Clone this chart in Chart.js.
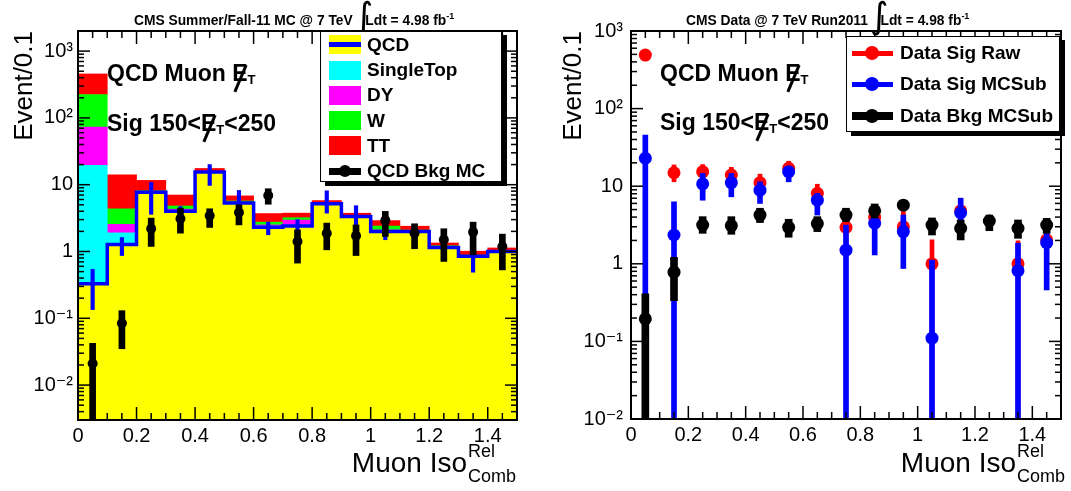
<!DOCTYPE html>
<html lang="fr">
<head>
<meta charset="utf-8">
<script src="https://cdn.jsdelivr.net/npm/chart.js@4.4.1/dist/chart.umd.min.js"></script>
<style>
  html, body { margin: 0; padding: 0; background: #fff; }
  body { width: 1071px; height: 491px; position: relative; overflow: hidden; font-family: "Liberation Sans", Arial, Helvetica, sans-serif; color: #000; }
  canvas { position: absolute; top: 0; }
  .titre { position: absolute; font-weight: bold; font-size: 13.8px; line-height: 14px; white-space: nowrap; z-index: 2; }
  .titre .int { font-family: "DejaVu Sans", sans-serif; font-weight: normal; font-size: 36px; line-height: 0; position: relative; top: 3px; margin-left: -2px; margin-right: -8px; }
  .titre sup { font-size: 9px; line-height: 0; vertical-align: 6px; }
  .annot { position: absolute; font-weight: bold; font-size: 23px; line-height: 23px; white-space: nowrap; z-index: 2; }
  .met { position: relative; display: inline-block; }
  .met i { position: absolute; left: calc(55% - 1.4px); top: 2px; width: 2.8px; height: 29px; background: #000; transform: rotate(23deg); }
  .t { font-size: 13px; position: relative; top: 3px; }
  .titre-x { position: absolute; font-size: 28px; line-height: 28px; white-space: nowrap; z-index: 2; }
  .ss { display: inline-block; position: relative; font-size: 18px; line-height: 18px; top: 10px; margin-left: 1px; }
  .ss .rel { position: absolute; left: 0; top: -25px; }
  .legende { position: absolute; box-sizing: border-box; background: #fff; border: 1.5px solid #000; box-shadow: 5px 4px 0 #000; z-index: 3; }
  .ligne { position: absolute; left: 0; right: 0; height: 20px; line-height: 20px; font-weight: bold; font-size: 19px; white-space: nowrap; }
  .symb { position: absolute; top: 0.5px; width: 32px; height: 19px; }
  .trait { position: absolute; }
  .rond { position: absolute; border-radius: 50%; }
</style>
</head>
<body>
<canvas id="graphe_mc" width="535" height="491" style="left:0"></canvas>
<canvas id="graphe_data" width="536" height="491" style="left:535px"></canvas>

<div class="titre" style="left:134px;top:13px">CMS Summer/Fall-11 MC @ 7 TeV <span class="int">∫</span>Ldt = 4.98 fb<sup>-1</sup></div>
<div class="titre" style="left:686px;top:13px">CMS Data @ 7 TeV Run2011 <span class="int">∫</span>Ldt = 4.98 fb<sup>-1</sup></div>

<div class="annot" style="left:107px;top:62px">QCD Muon <span class="met">E<i></i></span><span class="t">T</span></div>
<div class="annot" style="left:107px;top:112px">Sig 150&lt;<span class="met">E<i></i></span><span class="t">T</span>&lt;250</div>
<div class="annot" style="left:660px;top:62px">QCD Muon <span class="met">E<i></i></span><span class="t">T</span></div>
<div class="annot" style="left:660px;top:111px">Sig 150&lt;<span class="met">E<i></i></span><span class="t">T</span>&lt;250</div>

<div class="titre-x" style="right:555px;top:449px">Muon Iso<span class="ss"><span class="rel">Rel</span>Comb</span></div>
<div class="titre-x" style="right:6px;top:449px">Muon Iso<span class="ss"><span class="rel">Rel</span>Comb</span></div>

<div class="legende" style="left:320px;top:31px;width:182px;height:151px">
  <div class="ligne" style="top:2.5px;padding-left:46px"><span class="symb" style="left:8px;background:#ffff00"><span class="trait" style="left:0;right:0;top:7px;height:5px;background:#0000ff"></span></span>QCD</div>
  <div class="ligne" style="top:28px;padding-left:46px"><span class="symb" style="left:8px;background:#00ffff"></span>SingleTop</div>
  <div class="ligne" style="top:53px;padding-left:46px"><span class="symb" style="left:8px;background:#ff00ff"></span>DY</div>
  <div class="ligne" style="top:78.5px;padding-left:46px"><span class="symb" style="left:8px;background:#00ff00"></span>W</div>
  <div class="ligne" style="top:103.5px;padding-left:46px"><span class="symb" style="left:8px;background:#ff0000"></span>TT</div>
  <div class="ligne" style="top:129px;padding-left:46px"><span class="symb" style="left:8px"><span class="trait" style="left:0;right:0;top:6px;height:7px;background:#000"></span><span class="rond" style="left:10px;top:3.5px;width:12px;height:12px;background:#000"></span></span>QCD Bkg MC</div>
</div>

<div class="legende" style="left:846px;top:36px;width:214px;height:96px">
  <div class="ligne" style="top:6px;padding-left:53px"><span class="trait" style="left:5px;width:41px;top:7.5px;height:5px;background:#ff0000"></span><span class="rond" style="left:18px;top:3px;width:14px;height:14px;background:#ff0000"></span>Data Sig Raw</div>
  <div class="ligne" style="top:37px;padding-left:53px"><span class="trait" style="left:5px;width:41px;top:7.5px;height:5px;background:#0000ff"></span><span class="rond" style="left:18px;top:3px;width:14px;height:14px;background:#0000ff"></span>Data Sig MCSub</div>
  <div class="ligne" style="top:69px;padding-left:53px"><span class="trait" style="left:5px;width:41px;top:6px;height:8px;background:#000"></span><span class="rond" style="left:18px;top:3px;width:14px;height:14px;background:#000"></span>Data Bkg MCSub</div>
</div>

<script>
// --- Binning et axes ---
const centresBins = [0.05, 0.15, 0.25, 0.35, 0.45, 0.55, 0.65, 0.75, 0.85, 0.95, 1.05, 1.15, 1.25, 1.35, 1.45];
const largeurBin = 0.1;
const ticksX = [0, 0.2, 0.4, 0.6, 0.8, 1, 1.2, 1.4];
const etiquettesX = ['0', '0.2', '0.4', '0.6', '0.8', '1', '1.2', '1.4'];
const ticksY = [0.01, 0.1, 1, 10, 100, 1000];
const etiquettesY = ['10⁻²', '10⁻¹', '1', '10', '10²', '10³'];

// --- Panneau gauche : MC empilé ---
const qcd       = [0.33, 1.27, 7.7, 4.0, 15.5, 5.3, 2.3, 2.4, 5.2, 3.35, 2.0, 2.0, 1.15, 0.85, 1.0];
const singleTop = [19.2, 0.63, 0.05, 0.1, 0.05, 0.05, 0.1, 0.1, 0.02, 0.02, 0.05, 0.02, 0.02, 0.01, 0.01];
const dy        = [53.5, 0.65, 0.05, 0.2, 0.05, 0.05, 0.1, 0.45, 0.02, 0.02, 0.05, 0.02, 0.02, 0.01, 0.01];
const w         = [151, 1.8, 0.3, 0.5, 0.1, 0.3, 0.25, 0.25, 0.05, 0.05, 0.3, 0.05, 0.03, 0.01, 0.01];
const tt        = [231, 9.65, 3.5, 2.2, 1.8, 1.1, 0.95, 0.55, 0.5, 0.3, 0.5, 0.3, 0.12, 0.13, 0.1];
const qcdErrBas  = [0.135, 0.87, 3.6, 3.6, 9.75, 3.75, 1.78, 1.8, 3.75, 2.5, 1.5, 1.6, 0.9, 0.49, 0.75];
const qcdErrHaut = [0.54, 1.62, 10.8, 4.7, 20, 8.2, 2.75, 3.0, 8.1, 4.85, 2.66, 2.5, 1.45, 1.0, 1.3];
const bkgMc      = [0.021, 0.084, 2.19, 3.09, 3.43, 3.84, 6.9, 1.41, 1.88, 1.72, 2.92, 1.88, 1.5, 1.95, 1.19];
const bkgMcBas   = [0.0005, 0.035, 1.19, 1.88, 2.29, 2.5, 5.1, 0.67, 1.06, 0.87, 1.68, 1.1, 0.71, 0.89, 0.53];
const bkgMcHaut  = [0.042, 0.13, 3.16, 4.45, 4.36, 5.0, 8.7, 2.1, 2.66, 2.5, 3.98, 2.6, 2.19, 2.75, 1.82];

// --- Panneau droit : données ---
const sigRaw      = [490, 14.9, 15.4, 13.9, 11.1, 17.0, 8.1, 2.95, 3.97, 3.0, 1.0, 4.83, null, 1.0, 2.03];
const sigRawBas   = [468, 11.4, 12, 10.5, 8, 13, 5.5, 1.3, 2.0, 1.3, 0.001, 2.6, null, 0.001, 0.6];
const sigRawHaut  = [512, 18.8, 19, 17.5, 14.3, 21, 10.6, 4.6, 5.7, 4.7, 2.03, 7.0, null, 1.98, 3.4];
const sigSub      = [22.9, 2.35, 10.7, 11.1, 8.9, 15.4, 6.6, 1.5, 3.33, 2.6, 0.11, 4.55, null, 0.815, 1.87];
const sigSubBas   = [0.001, 0.001, 6.6, 7.3, 6.0, 11.4, 4.25, 0.001, 1.3, 0.87, 0.001, 3.0, null, 0.001, 0.46];
const sigSubHaut  = [45.7, 6.3, 14.6, 14.6, 11.4, 17.8, 8.1, 3.16, 4.7, 4.25, 1.12, 7.0, null, 1.84, 2.73];
const bkgData     = [0.195, 0.78, 3.16, 3.1, 4.25, 2.95, 3.3, 4.25, 4.83, 5.7, 3.16, 2.87, 3.56, 2.87, 3.16];
const bkgDataBas  = [0.001, 0.335, 2.47, 2.4, 3.4, 2.2, 2.6, 3.5, 3.9, 5.0, 2.35, 2.03, 2.67, 2.13, 2.47];
const bkgDataHaut = [0.41, 1.21, 4.05, 4.05, 5.2, 3.75, 4.05, 5.2, 5.9, 6.5, 3.9, 3.67, 4.25, 3.67, 3.85];

const FONTE = '"Liberation Sans", "DejaVu Sans", Arial, sans-serif';

// Cadre noir + graduations vers l'intérieur, façon ROOT
const cadreRoot = {
  id: 'cadreRoot',
  afterDraw(chart) {
    const { ctx, chartArea: a, scales: { x, y } } = chart;
    const trait = (x1, y1, x2, y2) => { ctx.beginPath(); ctx.moveTo(x1, y1); ctx.lineTo(x2, y2); ctx.stroke(); };
    ctx.save();
    ctx.strokeStyle = '#000';
    ctx.lineWidth = 1.5;
    for (let e = Math.floor(Math.log10(y.min)); e <= Math.ceil(Math.log10(y.max)); e++) {
      for (let k = 1; k <= 9; k++) {
        const v = k * Math.pow(10, e);
        if (v < y.min || v > y.max) continue;
        const py = y.getPixelForValue(v);
        const l = k === 1 ? 12 : 6;
        trait(a.left, py, a.left + l, py);
        trait(a.right, py, a.right - l, py);
      }
    }
    for (let i = 0; i * 0.05 <= x.max + 1e-9; i++) {
      const px = x.getPixelForValue(i * 0.05);
      const l = i % 4 === 0 ? 13 : 7;
      trait(px, a.bottom, px, a.bottom - l);
      trait(px, a.top, px, a.top + l);
    }
    ctx.lineWidth = 2;
    ctx.strokeRect(a.left, a.top, a.right - a.left, a.bottom - a.top);
    ctx.restore();
  }
};

function barresErreur(bas, haut, couleur, epaisseur, ordre) {
  return {
    type: 'bar',
    data: centresBins.map((x, i) => ({ x, y: [bas[i], haut[i]] })).filter(d => d.y[0] != null),
    backgroundColor: couleur, borderWidth: 0, barThickness: epaisseur, grouped: false, order: ordre
  };
}

function marqueurs(valeurs, couleur, rayon, ordre) {
  return {
    type: 'scatter',
    data: centresBins.map((x, i) => ({ x, y: valeurs[i] })).filter(d => d.y != null),
    backgroundColor: couleur, borderColor: couleur, pointRadius: rayon, pointBorderWidth: 0, order: ordre
  };
}

// Empilement des fonds MC (QCD en bas)
function couchesEmpilees(couches, couleurs) {
  let cumul = centresBins.map(() => 0);
  return couches.map((c, k) => {
    const bas = cumul.slice();
    cumul = cumul.map((v, i) => v + c[i]);
    return {
      type: 'bar',
      data: centresBins.map((x, i) => ({ x, y: bas[i] === 0 ? cumul[i] : [bas[i], cumul[i]] })),
      backgroundColor: couleurs[k], borderWidth: 0,
      barPercentage: 1, categoryPercentage: 1, grouped: false, order: 20 + k
    };
  });
}

function options(yMin, yMax, largeurY, hauteurX, margeDroite, padTitre, padTicksY) {
  return {
    responsive: false,
    animation: false,
    devicePixelRatio: 1,
    layout: { padding: { top: 31, right: margeDroite, left: 0, bottom: 0 } },
    plugins: { legend: { display: false }, tooltip: { enabled: false } },
    scales: {
      x: {
        type: 'linear', min: 0, max: 1.5, offset: false,
        grid: { display: false, drawTicks: false }, border: { display: false },
        afterBuildTicks: s => { s.ticks = ticksX.map(v => ({ value: v })); },
        afterFit: s => { s.height = hauteurX; },
        ticks: { autoSkip: false, maxRotation: 0, padding: 4, color: '#000', font: { family: FONTE, size: 20 },
                 callback: (v, i) => etiquettesX[i] }
      },
      y: {
        type: 'logarithmic', min: yMin, max: yMax,
        grid: { display: false, drawTicks: false }, border: { display: false },
        afterBuildTicks: s => { s.ticks = ticksY.map(v => ({ value: v })); },
        afterFit: s => { s.width = largeurY; },
        title: { display: true, text: 'Event/0.1', align: 'end', color: '#000',
                 font: { family: FONTE, size: 26 }, padding: { top: padTitre, bottom: 0 } },
        ticks: { autoSkip: false, padding: padTicksY, color: '#000', font: { family: FONTE, size: 20 },
                 callback: (v, i) => etiquettesY[i] }
      }
    }
  };
}

// Contour bleu du QCD (histogramme en escalier, bords des bins)
const bordsBins = centresBins.map(c => c - largeurBin / 2).concat(centresBins[centresBins.length - 1] + largeurBin / 2);

new Chart(document.getElementById('graphe_mc'), {
  type: 'bar',
  data: {
    datasets: [
      ...couchesEmpilees([qcd, singleTop, dy, w, tt], ['#ffff00', '#00ffff', '#ff00ff', '#00ff00', '#ff0000']),
      {
        type: 'line',
        data: bordsBins.map((x, i) => ({ x, y: qcd[Math.min(i, qcd.length - 1)] })),
        borderColor: '#0000ff', borderWidth: 3.5, pointRadius: 0, stepped: 'before', fill: false, order: 6
      },
      barresErreur(qcdErrBas, qcdErrHaut, '#0000ff', 3.5, 5),
      barresErreur(bkgMcBas, bkgMcHaut, '#000000', 6, 2),
      marqueurs(bkgMc, '#000000', 5, 1)
    ]
  },
  options: options(0.003, 2000, 78, 71, 18, 9, 5),
  plugins: [cadreRoot]
});

new Chart(document.getElementById('graphe_data'), {
  type: 'bar',
  data: {
    datasets: [
      barresErreur(sigRawBas, sigRawHaut, '#ff0000', 4, 12),
      marqueurs(sigRaw, '#ff0000', 6.5, 11),
      barresErreur(sigSubBas, sigSubHaut, '#0000ff', 5, 8),
      marqueurs(sigSub, '#0000ff', 6.5, 7),
      barresErreur(bkgDataBas, bkgDataHaut, '#000000', 7, 2),
      marqueurs(bkgData, '#000000', 6.5, 1)
    ]
  },
  options: options(0.01, 1000, 96, 72, 10, 23, 8),
  plugins: [cadreRoot]
});
</script>
</body>
</html>
